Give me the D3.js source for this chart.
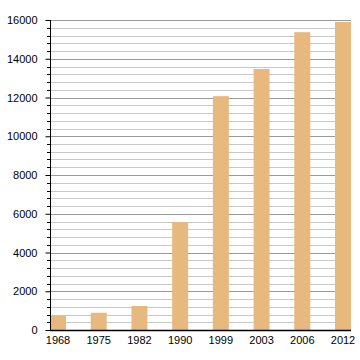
<!DOCTYPE html>
<html><head><meta charset="utf-8">
<script src="https://cdn.jsdelivr.net/npm/d3@7"></script>
<style>body{margin:0;background:#fff}svg{display:block}text{font-family:"Liberation Sans",Arial,sans-serif;font-size:11px;fill:#000}</style>
</head><body>
<script>
const categories = ["1968","1975","1982","1990","1999","2003","2006","2012"];
const values = [740, 890, 1240, 5570, 12070, 13470, 15370, 15900];
const yTicks = [0,2000,4000,6000,8000,10000,12000,14000,16000];
const minorStep = 400;

const W=360,H=360, L=50, R=351, T=20, B=330;
const svg=d3.select("body").append("svg").attr("width",W).attr("height",H);
const y=d3.scaleLinear().domain([0,16000]).range([B,T]);
const x=d3.scaleBand().domain(categories).range([L,R]).paddingInner(0.607).paddingOuter(0);

const minor=d3.range(0,16001,minorStep).filter(v=>v%2000!==0);
svg.append("g").selectAll("line").data(minor).join("line")
 .attr("x1",L).attr("x2",R).attr("y1",d=>Math.round(y(d))+0.5).attr("y2",d=>Math.round(y(d))+0.5)
 .attr("stroke","#c8c8c8").attr("stroke-width",1);
svg.append("g").selectAll("line").data(yTicks.slice(1)).join("line")
 .attr("x1",L).attr("x2",R).attr("y1",d=>Math.round(y(d))+0.5).attr("y2",d=>Math.round(y(d))+0.5)
 .attr("stroke","#999").attr("stroke-width",1);
// minor ticks
svg.append("g").selectAll("line").data(minor).join("line")
 .attr("x1",L-3).attr("x2",L).attr("y1",d=>Math.round(y(d))+0.5).attr("y2",d=>Math.round(y(d))+0.5)
 .attr("stroke","#000");

svg.append("g").selectAll("rect").data(values).join("rect")
 .attr("x",(d,i)=>x(categories[i])).attr("width",x.bandwidth())
 .attr("y",d=>y(d)).attr("height",d=>B-y(d)).attr("fill","#e8b97e");

const ya=svg.append("g").attr("transform",`translate(${L+0.5},0)`)
 .call(d3.axisLeft(y).tickValues(yTicks).tickSize(5).tickPadding(8).tickFormat(d3.format("d")));
ya.select(".domain").attr("d",`M0,${T}V${B}`);
ya.selectAll("text").attr("font-size",11).attr("font-family","Liberation Sans, Arial, sans-serif");

const xa=svg.append("g").attr("transform",`translate(0,${B+0.5})`)
 .call(d3.axisBottom(x).tickSize(0).tickPadding(6));
xa.select(".domain").attr("d",`M${L},0H${R}`).attr("stroke","#000").attr("stroke-width",1.5);
xa.selectAll("text").attr("font-size",11).attr("font-family","Liberation Sans, Arial, sans-serif");
</script>
</body></html>
